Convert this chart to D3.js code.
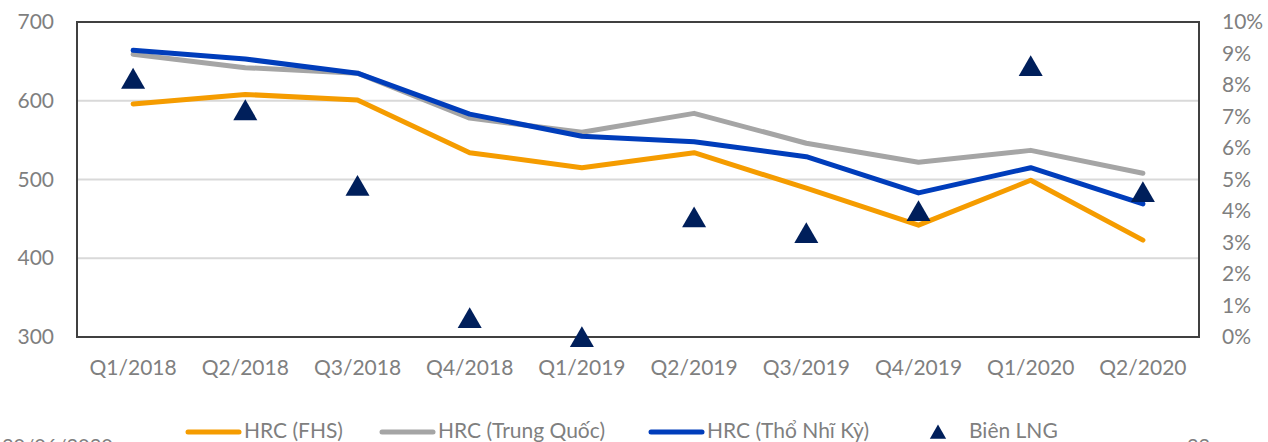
<!DOCTYPE html>
<html>
<head>
<meta charset="utf-8">
<script src="https://cdn.jsdelivr.net/npm/d3@7"></script>
<style>
  body { margin: 0; background: #fff; }
  text { font-family: Lato, "Open Sans", sans-serif; fill: #7f7f7f; }
</style>
</head>
<body>
<script>
// Data
// =================================
var quarters = ["Q1/2018", "Q2/2018", "Q3/2018", "Q4/2018", "Q1/2019",
    "Q2/2019", "Q3/2019", "Q4/2019", "Q1/2020", "Q2/2020"];
var hrcFHS = [596, 608, 601, 534, 515, 534, 489, 442, 499, 423];
var hrcChina = [659, 642, 635, 578, 560, 584, 546, 522, 537, 508];
var hrcTurkey = [664, 653, 635, 583, 555, 548, 529, 483, 515, 469];
var lngMargin = [0.082, 0.072, 0.048, 0.006, 0.000, 0.038, 0.033, 0.040, 0.086, 0.046];
var leftTicks = [300, 400, 500, 600, 700];
var rightTicks = [0, 0.01, 0.02, 0.03, 0.04, 0.05, 0.06, 0.07, 0.08, 0.09, 0.10];

var series = [
    { name: "HRC (Trung Quốc)", values: hrcChina, color: "#a5a5a5" },
    { name: "HRC (FHS)", values: hrcFHS, color: "#f59c00" },
    { name: "HRC (Thổ Nhĩ Kỳ)", values: hrcTurkey, color: "#003dbb" }
];

// Set up chart
// =================================
var svgWidth = 1268;
var svgHeight = 442;

var margin = { top: 22, right: 69, bottom: 105, left: 77 };
var chartWidth = svgWidth - margin.left - margin.right;
var chartHeight = svgHeight - margin.top - margin.bottom;

var svg = d3.select("body")
    .append("svg")
    .attr("width", svgWidth)
    .attr("height", svgHeight);

var chartGroup = svg.append("g")
    .attr("transform", `translate(${margin.left}, ${margin.top})`);

// Scales
var xBandScale = d3.scaleBand()
    .domain(quarters)
    .range([0, chartWidth]);

var yLeft = d3.scaleLinear()
    .domain([300, 700])
    .range([chartHeight, 0]);

var yRight = d3.scaleLinear()
    .domain([0, 0.10])
    .range([chartHeight, 0]);

var xCenter = d => xBandScale(d) + xBandScale.bandwidth() / 2;

// gridlines
chartGroup.append("g")
    .selectAll("line")
    .data(leftTicks.slice(1, -1))
    .enter()
    .append("line")
    .attr("x1", 0)
    .attr("x2", chartWidth)
    .attr("y1", d => yLeft(d))
    .attr("y2", d => yLeft(d))
    .attr("stroke", "#d9d9d9")
    .attr("stroke-width", 2);

// axes
var leftAxis = d3.axisLeft(yLeft).tickValues(leftTicks).tickSize(0).tickPadding(23);
var rightAxis = d3.axisRight(yRight).tickValues(rightTicks).tickSize(0)
    .tickPadding(23).tickFormat(d3.format(".0%"));
var bottomAxis = d3.axisBottom(xBandScale).tickSize(0).tickPadding(23);

var gLeft = chartGroup.append("g").call(leftAxis);
var gRight = chartGroup.append("g")
    .attr("transform", `translate(${chartWidth}, 0)`)
    .call(rightAxis);
var gBottom = chartGroup.append("g")
    .attr("transform", `translate(0, ${chartHeight})`)
    .call(bottomAxis);

[gLeft, gRight, gBottom].forEach(function (g) {
    g.select(".domain").remove();
    g.selectAll("text")
        .style("font-size", "21px")
        .attr("fill", "#7f7f7f");
});

// lines
var line = d3.line()
    .x((d, i) => xCenter(quarters[i]))
    .y(d => yLeft(d));

chartGroup.selectAll(".series")
    .data(series)
    .enter()
    .append("path")
    .attr("class", "series")
    .attr("d", d => line(d.values))
    .attr("fill", "none")
    .attr("stroke", d => d.color)
    .attr("stroke-width", 5)
    .attr("stroke-linejoin", "round")
    .attr("stroke-linecap", "round");

// frame
chartGroup.append("rect")
    .attr("x", 0)
    .attr("y", 0)
    .attr("width", chartWidth)
    .attr("height", chartHeight)
    .attr("fill", "none")
    .attr("stroke", "#404040")
    .attr("stroke-width", 2);

// triangles for LNG margin (d3 centres on the centroid, nudge to box centre)
var triangle = d3.symbol().type(d3.symbolTriangle).size(250);
chartGroup.selectAll(".tri")
    .data(lngMargin)
    .enter()
    .append("path")
    .attr("class", "tri")
    .attr("d", triangle)
    .attr("transform", (d, i) => `translate(${xCenter(quarters[i])}, ${yRight(d) + 3})`)
    .attr("fill", "#001f5b");

// legend
var legendY = 432;
var legendItems = [
    { name: "HRC (FHS)", color: "#f59c00", x: 188 },
    { name: "HRC (Trung Quốc)", color: "#a5a5a5", x: 382 },
    { name: "HRC (Thổ Nhĩ Kỳ)", color: "#003dbb", x: 651 }
];
var legend = svg.append("g");
legendItems.forEach(function (item) {
    legend.append("line")
        .attr("x1", item.x)
        .attr("x2", item.x + 51)
        .attr("y1", legendY)
        .attr("y2", legendY)
        .attr("stroke", item.color)
        .attr("stroke-width", 5)
        .attr("stroke-linecap", "round");
    legend.append("text")
        .attr("x", item.x + 56)
        .attr("y", legendY + 6)
        .style("font-size", "21px")
        .text(item.name);
});
legend.append("path")
    .attr("d", d3.symbol().type(d3.symbolTriangle).size(115))
    .attr("transform", `translate(938, ${legendY + 2})`)
    .attr("fill", "#001f5b");
legend.append("text")
    .attr("x", 969)
    .attr("y", legendY + 6)
    .style("font-size", "21px")
    .text("Biên LNG");

// page footer text, cut by the bottom edge as in the source slide
svg.append("text")
    .attr("x", 2)
    .attr("y", 453)
    .style("font-size", "20px")
    .attr("fill", "#a6a6a6")
    .text("30/06/2020");
svg.append("text")
    .attr("x", 1187)
    .attr("y", 453)
    .style("font-size", "20px")
    .attr("fill", "#a6a6a6")
    .text("22");
</script>
</body>
</html>
